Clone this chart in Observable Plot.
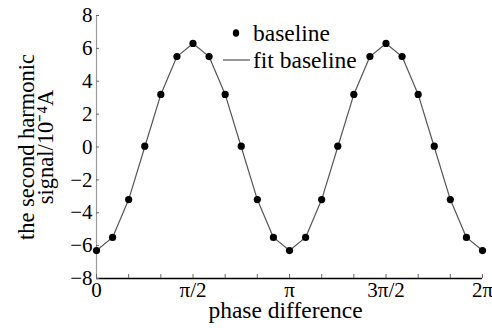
<!DOCTYPE html>
<html>
<head>
<meta charset="utf-8">
<script src="https://cdn.jsdelivr.net/npm/d3@7"></script>
<script src="https://cdn.jsdelivr.net/npm/@observablehq/plot@0.6"></script>
<style>
  html, body { margin: 0; padding: 0; background: #fff; font-family: 'Liberation Serif'; }
</style>
</head>
<body>
<div id="chart"></div>
<script>
// phase difference in units of π/12
const phaseSteps = [0,1,2,3,4,5,6,7,8,9,10,11,12,13,14,15,16,17,18,19,20,21,22,23,24];
// measured baseline second-harmonic signal (×10^-4 A)
const baselineValues = [-6.3,-5.5,-3.2,0.05,3.2,5.5,6.3,5.5,3.2,0.05,-3.2,-5.5,-6.3,-5.5,-3.2,0.05,3.2,5.5,6.3,5.5,3.2,0.05,-3.2,-5.5,-6.3];
// fitted baseline (×10^-4 A)
const fitValues = [-6.3,-5.5,-3.2,0.0,3.2,5.5,6.3,5.5,3.2,0.0,-3.2,-5.5,-6.3,-5.5,-3.2,0.0,3.2,5.5,6.3,5.5,3.2,0.0,-3.2,-5.5,-6.3];
const xTickSteps = [0,2,4,6,8,10,12,14,16,18,20,22,24];
const xTickLabels = {0: "0", 6: "π/2", 12: "π", 18: "3π/2", 24: "2π"};
const yTicks = [-8,-6,-4,-2,0,2,4,6,8];
const seriesNames = ["baseline", "fit baseline"];

const FONT = "Liberation Serif";
const PI = Math.PI;
const pts = phaseSteps.map((s, i) => ({x: s * PI / 12, y: baselineValues[i]}));
const fit = phaseSteps.map((s, i) => ({x: s * PI / 12, y: fitValues[i]}));

const chart = Plot.plot({
  width: 492,
  height: 328,
  marginLeft: 96,
  marginRight: 10,
  marginTop: 15,
  marginBottom: 50,
  style: {fontFamily: FONT, fontSize: "21px"},
  x: {domain: [0, 2 * PI]},
  y: {domain: [-8, 8]},
  marks: [
    Plot.ruleX([0], {stroke: "#999", strokeWidth: 1.2}),
    Plot.ruleY([-8], {stroke: "#000", strokeWidth: 1.5}),
    Plot.axisX({
      ticks: xTickSteps.map(s => s * PI / 12),
      tickFormat: d => xTickLabels[Math.round(d * 12 / PI)] ?? "",
      tickSize: -4,
      tickPadding: 8,
      stroke: "#666",
      fill: "#000",
      fontSize: 21,
      label: null
    }),
    Plot.text(["phase difference"], {
      frameAnchor: "bottom",
      dy: 39,
      dx: -4,
      fontSize: 23.5,
      fill: "#000"
    }),
    Plot.axisY({
      ticks: yTicks,
      tickSize: -3,
      tickPadding: 7,
      stroke: "#666",
      fill: "#000",
      fontSize: 21,
      label: null
    }),
    Plot.text(["the second harmonic\nsignal/10⁻⁴A"], {
      frameAnchor: "left",
      rotate: -90,
      dx: -59,
      fontSize: 22.5,
      lineHeight: 0.85,
      textAnchor: "middle",
      lineAnchor: "middle",
      fill: "#000"
    }),
    Plot.line(fit, {x: "x", y: "y", stroke: "#555", strokeWidth: 1.2}),
    Plot.dot(pts, {x: "x", y: "y", r: 3.6, fill: "#000", stroke: "none"})
  ]
});

// legend inside the frame
const svg = d3.select(chart);
const lg = svg.append("g").attr("font-size", 23.5).attr("text-anchor", "start");
lg.append("ellipse").attr("cx", 236).attr("cy", 33).attr("rx", 3.2).attr("ry", 3.8).attr("fill", "#000");
lg.append("text").attr("x", 253).attr("y", 33).attr("dy", "0.32em").text(seriesNames[0]);
lg.append("line").attr("x1", 223).attr("x2", 250).attr("y1", 60).attr("y2", 60).attr("stroke", "#555").attr("stroke-width", 1.2);
lg.append("text").attr("x", 253).attr("y", 60).attr("dy", "0.32em").text(seriesNames[1]);

document.getElementById("chart").appendChild(chart);
</script>
</body>
</html>
